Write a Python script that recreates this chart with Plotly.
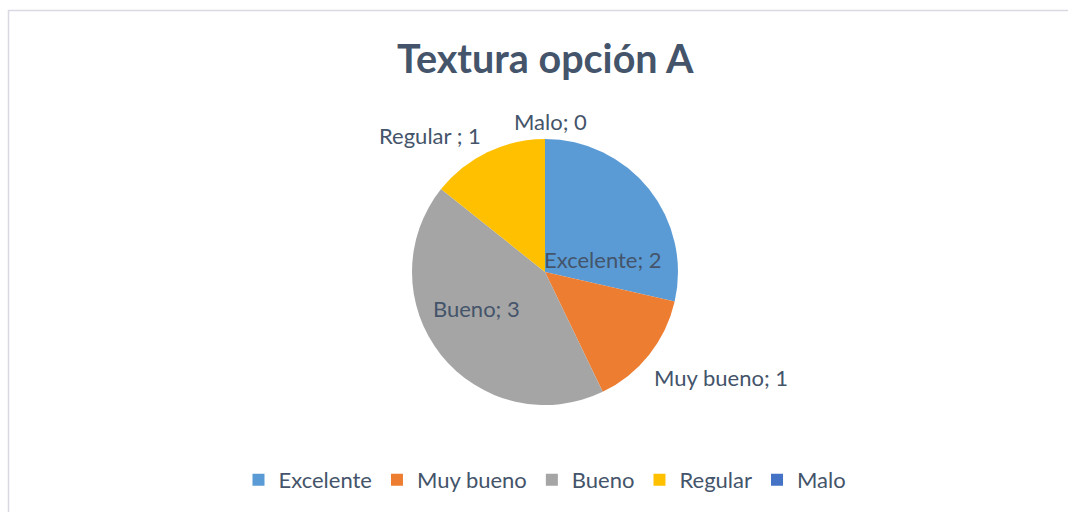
import plotly.graph_objects as go

categories = ["Excelente", "Muy bueno", "Bueno", "Regular", "Malo"]
label_names = ["Excelente", "Muy bueno", "Bueno", "Regular ", "Malo"]
values = [2, 1, 3, 1, 0]
colors = ["#5B9BD5", "#ED7D31", "#A5A5A5", "#FFC000", "#4472C4"]

W, H = 1068, 512
TXT = "#44546A"
FONT = "Lato"

cx, cy, r = 545, 272, 133

fig = go.Figure()
fig.add_trace(go.Pie(
    labels=categories,
    values=values,
    sort=False,
    direction="clockwise",
    rotation=0,
    marker=dict(colors=colors, line=dict(width=0)),
    textinfo="none",
    hoverinfo="label+value",
    showlegend=True,
    domain=dict(x=[(cx - r) / W, (cx + r) / W], y=[1 - (cy + r) / H, 1 - (cy - r) / H]),
))

# data label positions (pixel centers)
label_pos = [(603, 259), (721, 377), (476, 308), (430, 135), (550, 121)]
annotations = []
for name, v, (px, py) in zip(label_names, values, label_pos):
    annotations.append(dict(
        text=f"{name}; {v}", x=px / W, y=1 - py / H, xref="paper", yref="paper",
        showarrow=False, xanchor="center", yanchor="middle",
        font=dict(family=FONT, size=22, color=TXT),
    ))
annotations.append(dict(
    text="<b>Textura opción A</b>", x=545 / W, y=1 - 57 / H, xref="paper", yref="paper",
    showarrow=False, xanchor="center", yanchor="middle",
    font=dict(family=FONT, size=39.5, color=TXT),
))

fig.update_layout(
    width=W, height=H,
    margin=dict(l=0, r=0, t=0, b=0),
    paper_bgcolor="white",
    plot_bgcolor="white",
    annotations=annotations,
    legend=dict(
        orientation="h", x=0.5 + 11 / W, xanchor="center", y=1 - 480 / H, yanchor="middle",
        font=dict(family=FONT, size=22, color=TXT),
        itemwidth=30, traceorder="normal",
    ),
    shapes=[dict(type="rect", xref="paper", yref="paper",
                 x0=8.5 / W, y0=-0.05, x1=1.05, y1=1 - 10.5 / H,
                 line=dict(color="#D9D9E3", width=1.5), fillcolor="rgba(0,0,0,0)")],
)

fig.write_html("out.html")
